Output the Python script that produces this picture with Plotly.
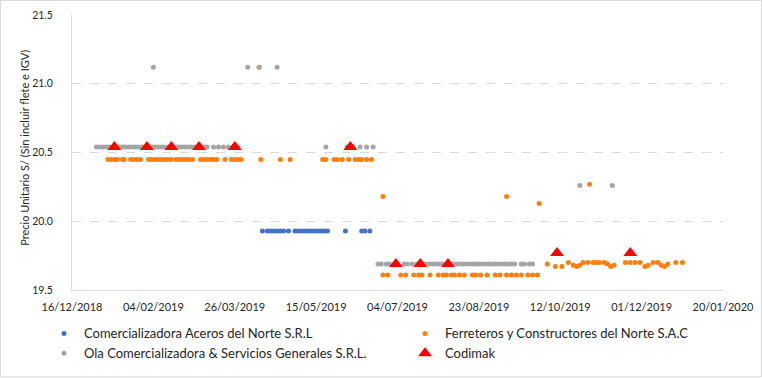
import plotly.graph_objects as go

# ---------------- data ----------------
aceros_dates = ["2019-04-12", "2019-04-15", "2019-04-17", "2019-04-19", "2019-04-21", "2019-04-23",
                "2019-04-25", "2019-04-28", "2019-05-02", "2019-05-04", "2019-05-06", "2019-05-08",
                "2019-05-10", "2019-05-12", "2019-05-14", "2019-05-16", "2019-05-18", "2019-05-20",
                "2019-05-22", "2019-06-02", "2019-06-12", "2019-06-14", "2019-06-17"]
aceros_prices = [19.93, 19.93, 19.93, 19.93, 19.93, 19.93, 19.93, 19.93, 19.93, 19.93, 19.93, 19.93,
                 19.93, 19.93, 19.93, 19.93, 19.93, 19.93, 19.93, 19.93, 19.93, 19.93, 19.93]

ferreteros_dates = [
    "2019-01-07", "2019-01-09", "2019-01-11", "2019-01-13", "2019-01-16", "2019-01-17",
    "2019-01-21", "2019-01-23", "2019-01-25", "2019-01-27",
    "2019-02-01", "2019-02-03", "2019-02-05", "2019-02-07", "2019-02-09", "2019-02-11",
    "2019-02-13", "2019-02-15", "2019-02-18", "2019-02-20", "2019-02-22", "2019-02-24",
    "2019-02-26", "2019-02-28",
    "2019-03-05", "2019-03-07", "2019-03-09", "2019-03-11", "2019-03-13", "2019-03-15",
    "2019-03-20", "2019-03-24", "2019-03-26", "2019-03-28", "2019-03-30",
    "2019-04-10", "2019-04-11", "2019-04-23", "2019-04-29",
    "2019-05-19", "2019-05-21", "2019-05-26", "2019-05-28", "2019-05-31",
    "2019-06-04", "2019-06-08", "2019-06-10", "2019-06-12", "2019-06-15", "2019-06-18",
    "2019-06-25",
    "2019-06-25", "2019-06-28", "2019-07-06", "2019-07-09", "2019-07-14", "2019-07-17",
    "2019-07-19", "2019-07-24", "2019-07-29", "2019-08-01", "2019-08-03", "2019-08-06",
    "2019-08-08", "2019-08-11", "2019-08-14", "2019-08-19", "2019-08-21", "2019-08-24",
    "2019-08-28", "2019-09-02", "2019-09-05", "2019-09-09", "2019-09-12", "2019-09-15",
    "2019-09-18", "2019-09-22", "2019-09-25", "2019-09-28",
    "2019-09-09", "2019-09-29", "2019-10-30",
    "2019-10-04", "2019-10-09", "2019-10-13", "2019-10-17", "2019-10-20", "2019-10-22",
    "2019-10-24", "2019-10-26", "2019-10-29", "2019-11-01", "2019-11-03", "2019-11-05",
    "2019-11-08", "2019-11-10", "2019-11-12", "2019-11-14", "2019-11-21", "2019-11-24",
    "2019-11-27", "2019-11-30", "2019-12-03", "2019-12-05", "2019-12-08", "2019-12-11",
    "2019-12-13", "2019-12-15", "2019-12-17", "2019-12-22", "2019-12-26"]
ferreteros_prices = [
    20.45, 20.45, 20.45, 20.45, 20.45, 20.45,
    20.45, 20.45, 20.45, 20.45,
    20.45, 20.45, 20.45, 20.45, 20.45, 20.45,
    20.45, 20.45, 20.45, 20.45, 20.45, 20.45,
    20.45, 20.45,
    20.45, 20.45, 20.45, 20.45, 20.45, 20.45,
    20.45, 20.45, 20.45, 20.45, 20.45,
    21.12, 20.45, 20.45, 20.45,
    20.45, 20.45, 20.45, 20.45, 20.45,
    20.45, 20.45, 20.45, 20.45, 20.45, 20.45,
    20.18,
    19.61, 19.61, 19.61, 19.61, 19.61, 19.61,
    19.61, 19.61, 19.61, 19.61, 19.61, 19.61,
    19.61, 19.61, 19.61, 19.61, 19.61, 19.61,
    19.61, 19.61, 19.61, 19.61, 19.61, 19.61,
    19.61, 19.61, 19.61, 19.61,
    20.18, 20.13, 20.27,
    19.69, 19.67, 19.67, 19.70, 19.68, 19.67,
    19.68, 19.70, 19.70, 19.70, 19.70, 19.70,
    19.70, 19.69, 19.67, 19.68, 19.70, 19.70,
    19.70, 19.70, 19.67, 19.68, 19.70, 19.70,
    19.68, 19.67, 19.69, 19.70, 19.70]

ola_dates = [
    "2018-12-31", "2019-01-02", "2019-01-04", "2019-01-06", "2019-01-08", "2019-01-10",
    "2019-01-12", "2019-01-14", "2019-01-16", "2019-01-18", "2019-01-20", "2019-01-22",
    "2019-01-24", "2019-01-26", "2019-01-28", "2019-01-30", "2019-02-01", "2019-02-03",
    "2019-02-05", "2019-02-07", "2019-02-09", "2019-02-11", "2019-02-13", "2019-02-15",
    "2019-02-17", "2019-02-19", "2019-02-21", "2019-02-23", "2019-02-25", "2019-02-27",
    "2019-03-01", "2019-03-03", "2019-03-05", "2019-03-07", "2019-03-09",
    "2019-03-13", "2019-03-16", "2019-03-19", "2019-03-22", "2019-03-25", "2019-03-28",
    "2019-05-21", "2019-06-03", "2019-06-07", "2019-06-11", "2019-06-15", "2019-06-19",
    "2019-02-04", "2019-04-03", "2019-04-10", "2019-04-21",
    "2019-06-22", "2019-06-24", "2019-06-27", "2019-06-29", "2019-07-08", "2019-07-10",
    "2019-07-13", "2019-07-16", "2019-07-18", "2019-07-20", "2019-07-22", "2019-07-24",
    "2019-07-26", "2019-07-28", "2019-07-30", "2019-08-01", "2019-08-03", "2019-08-05",
    "2019-08-07", "2019-08-09", "2019-08-11", "2019-08-13", "2019-08-15", "2019-08-17",
    "2019-08-19", "2019-08-21", "2019-08-23", "2019-08-25", "2019-08-27", "2019-08-29",
    "2019-08-31", "2019-09-02", "2019-09-04", "2019-09-06", "2019-09-08", "2019-09-10",
    "2019-09-12", "2019-09-14", "2019-09-18", "2019-09-20", "2019-09-23", "2019-09-25",
    "2019-10-24", "2019-11-13"]
ola_prices = [
    20.54, 20.54, 20.54, 20.54, 20.54, 20.54,
    20.54, 20.54, 20.54, 20.54, 20.54, 20.54,
    20.54, 20.54, 20.54, 20.54, 20.54, 20.54,
    20.54, 20.54, 20.54, 20.54, 20.54, 20.54,
    20.54, 20.54, 20.54, 20.54, 20.54, 20.54,
    20.54, 20.54, 20.54, 20.54, 20.54,
    20.54, 20.54, 20.54, 20.54, 20.54, 20.54,
    20.54, 20.54, 20.54, 20.54, 20.54, 20.54,
    21.12, 21.12, 21.12, 21.12,
    19.69, 19.69, 19.69, 19.69, 19.69, 19.69,
    19.69, 19.69, 19.69, 19.69, 19.69, 19.69,
    19.69, 19.69, 19.69, 19.69, 19.69, 19.69,
    19.69, 19.69, 19.69, 19.69, 19.69, 19.69,
    19.69, 19.69, 19.69, 19.69, 19.69, 19.69,
    19.69, 19.69, 19.69, 19.69, 19.69, 19.69,
    19.69, 19.69, 19.69, 19.69, 19.69, 19.69,
    20.26, 20.26]

codimak_dates = ["2019-01-11", "2019-01-31", "2019-02-15", "2019-03-04", "2019-03-26", "2019-06-05",
                 "2019-07-03", "2019-07-18", "2019-08-04", "2019-10-10", "2019-11-24"]
codimak_prices = [20.54, 20.54, 20.54, 20.54, 20.54, 20.54,
                  19.69, 19.69, 19.69, 19.77, 19.77]

tick_dates = ["2018-12-16", "2019-02-04", "2019-03-26", "2019-05-15", "2019-07-04",
              "2019-08-23", "2019-10-12", "2019-12-01", "2020-01-20"]
tick_labels = ["16/12/2018", "04/02/2019", "26/03/2019", "15/05/2019", "04/07/2019",
               "23/08/2019", "12/10/2019", "01/12/2019", "20/01/2020"]
y_ticks = [19.5, 20.0, 20.5, 21.0, 21.5]
y_labels = ["19.5", "20.0", "20.5", "21.0", "21.5"]
y_title = "Precio Unitario S/ (Sin incluir flete e IGV)"

names = ["Comercializadora Aceros del Norte S.R.L",
         "Ferreteros y Constructores del Norte S.A.C",
         "Ola Comercializadora & Servicios Generales S.R.L.",
         "Codimak"]

# ---------------- figure ----------------
FONT = "Lato, 'Liberation Sans', sans-serif"
fig = go.Figure()
fig.add_trace(go.Scatter(x=aceros_dates, y=aceros_prices, mode="markers", name=names[0],
                         marker=dict(color="#4472C4", size=5, line=dict(width=0))))
fig.add_trace(go.Scatter(x=ferreteros_dates, y=ferreteros_prices, mode="markers", name=names[1],
                         marker=dict(color="#FF7F0E", size=5, line=dict(width=0))))
fig.add_trace(go.Scatter(x=ola_dates, y=ola_prices, mode="markers", name=names[2],
                         marker=dict(color="#A5A5A5", size=5, line=dict(width=0))))
fig.add_trace(go.Scatter(x=codimak_dates, y=codimak_prices, mode="markers", name=names[3],
                         marker=dict(color="#FF0000", size=12, symbol="triangle-up",
                                     line=dict(width=0))))

L, R, T, B = 72, 39, 15, 87.5
W, H = 762, 378
pw, ph = W - L - R, H - T - B

fig.update_layout(
    width=W, height=H,
    margin=dict(l=L, r=R, t=T, b=B, autoexpand=False),
    paper_bgcolor="white", plot_bgcolor="white",
    font=dict(family=FONT, size=11, color="#404040"),
    showlegend=True,
    legend=dict(orientation="h", x=(44 - L) / pw, xanchor="left",
                y=-(319 - (H - B)) / ph, yanchor="top",
                entrywidth=316, entrywidthmode="pixels",
                itemwidth=30, itemsizing="trace",
                font=dict(family=FONT, size=13, color="#262626"),
                bgcolor="rgba(0,0,0,0)"),
    xaxis=dict(type="date", range=["2018-12-16", "2020-01-20"],
               tickmode="array", tickvals=tick_dates, ticktext=tick_labels,
               showgrid=False, showline=True, linecolor="#D9D9D9", linewidth=1,
               ticks="", ticklabelstandoff=7, zeroline=False,
               tickfont=dict(family=FONT, size=11, color="#262626")),
    yaxis=dict(range=[19.5, 21.5], tickmode="array", tickvals=y_ticks, ticktext=y_labels,
               showgrid=True, gridcolor="#D9D9D9", griddash="dash", gridwidth=1,
               showline=True, linecolor="#D9D9D9", linewidth=1, zeroline=False,
               ticks="", ticklabelstandoff=16,
               tickfont=dict(family=FONT, size=10.5, color="#262626")),
    annotations=[dict(text=y_title, xref="paper", yref="paper",
                      x=(25 - L) / pw, y=(H - B - 148) / ph, xanchor="center", yanchor="middle",
                      textangle=-90, showarrow=False,
                      font=dict(family=FONT, size=11, color="#262626"))],
)

# chart-area border
fig.add_shape(type="rect", xref="paper", yref="paper",
              x0=(0.5 - L) / pw, x1=1 + (R - 0.5) / pw,
              y0=-(B - 0.5) / ph, y1=1 + (T - 0.5) / ph,
              line=dict(color="#D9D9D9", width=1), fillcolor="rgba(0,0,0,0)", layer="below")

fig.write_html("out.html", config={"displayModeBar": False},
               post_script="document.body.style.margin='0px';document.body.style.overflow='hidden';")
